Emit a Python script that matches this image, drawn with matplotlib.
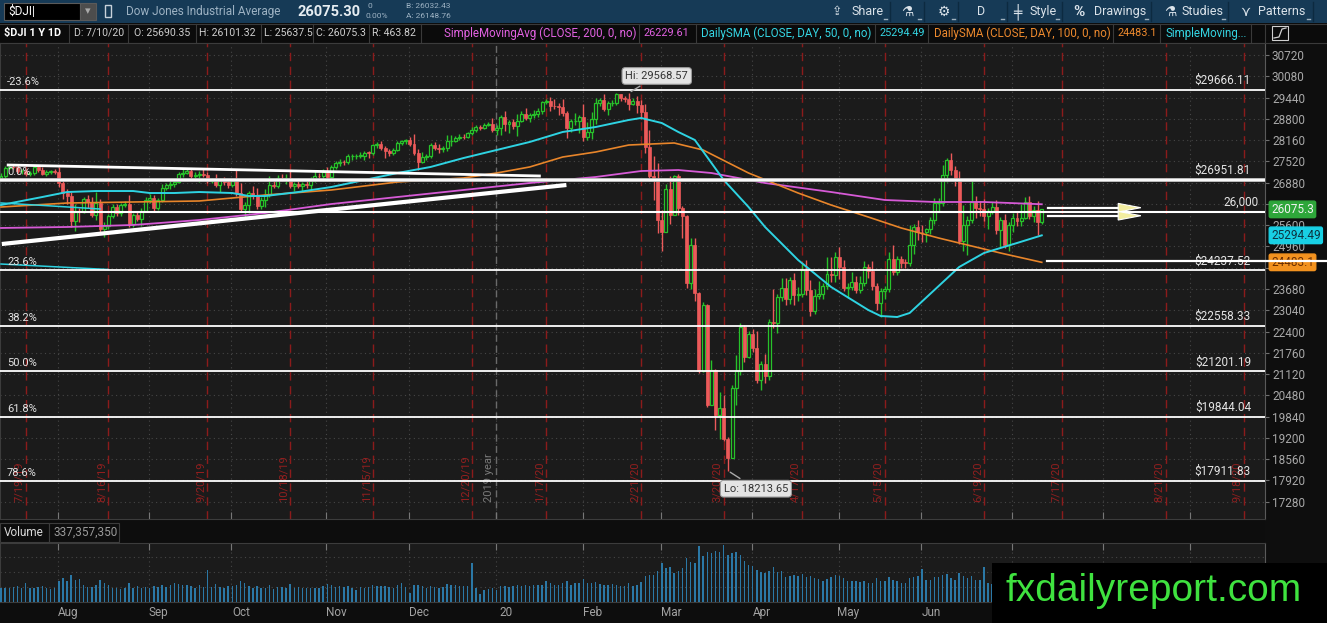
import numpy as np
import pandas as pd
import matplotlib
matplotlib.use("Agg")
import matplotlib.pyplot as plt
import matplotlib.transforms as mtrans
from matplotlib.patches import Rectangle, Polygon

plt.rcParams['font.family'] = ['Roboto', 'DejaVu Sans']

W, H = 1327, 623

## Daily closes, Jul 11 2019 .. Jul 10 2020 (one list per month)
close_jul19 = [27088, 27332, 27359, 27336, 27220, 27223, 27154, 27172, 27349, 27270, 27140, 27192, 27221, 27198, 26864]
close_aug19 = [26583, 26485, 25718, 26030, 26008, 26378, 26287, 25897, 26280, 25480, 25579, 25886, 26136, 25962, 26202,
               26252, 25629, 25899, 25778, 26036, 26362, 26403]
close_sep19 = [26118, 26355, 26728, 26797, 26835, 26909, 27137, 27182, 27220, 27076, 27111, 27147, 27095, 26935, 26950,
               26808, 26971, 26891, 26820, 26917]
close_oct19 = [26573, 26079, 26202, 26573, 26478, 26165, 26347, 26497, 26817, 26787, 27025, 27001, 27026, 26770, 26828,
               26788, 26834, 26806, 26958, 27091, 27071, 27186, 27046]
close_nov19 = [27347, 27462, 27493, 27492, 27675, 27681, 27691, 27691, 27784, 27782, 28005, 28036, 27934, 27821, 27766,
               27876, 28066, 28122, 28164, 28051]
close_dec19 = [27783, 27503, 27650, 27678, 28015, 27909, 27881, 27911, 28132, 28135, 28235, 28268, 28239, 28377, 28455,
               28551, 28516, 28621, 28645, 28462, 28538]
close_jan20 = [28868, 28634, 28703, 28583, 28745, 28957, 28824, 28907, 28940, 29030, 29298, 29348, 29196, 29186, 29160,
               28990, 28535, 28723, 28734, 28860, 28256]
close_feb20 = [28400, 28808, 29291, 29380, 29103, 29276, 29276, 29551, 29424, 29398, 29232, 29348, 29219, 28992, 27961,
               27081, 26957, 25767, 25409]
close_mar20 = [26703, 25917, 27091, 26121, 25865, 23851, 25018, 23553, 21200, 23186, 20189, 21237, 19899, 20087, 19174,
               18592, 20704, 21200, 22552, 21637, 22328, 21917]
close_apr20 = [20944, 21413, 21053, 22680, 22654, 23434, 23719, 23390, 23950, 23505, 23538, 24242, 23650, 23019, 23475,
               23515, 23775, 24134, 24102, 24634, 24346]
close_may20 = [23724, 23750, 23883, 23664, 23875, 24331, 24221, 23764, 23248, 23625, 23685, 24597, 24206, 24576, 24474,
               24465, 24995, 25548, 25401, 25383]
close_jun20 = [25475, 25742, 26270, 26282, 27111, 27572, 27272, 26990, 25128, 25606, 25763, 26290, 26120, 26080, 25871,
               26025, 26156, 25446, 25745, 25016, 25596, 25813]
close_jul20 = [25735, 25827, 26287, 25890, 26067, 25706, 26075.3]
first_open = 27010

## Wick lengths above / below the candle body (points)
up_jul19 = [80, 60, 50, 40, 90, 60, 80, 60, 50, 70, 80, 60, 50, 60, 150]
up_aug19 = [150, 100, 120, 200, 80, 60, 120, 150, 330, 100, 120, 60, 100, 90, 60, 80, 250, 60, 120, 70, 90, 150]
up_sep19 = [100, 60, 100, 60, 80, 90, 60, 100, 80, 60, 80, 80, 160, 100, 80, 180, 60, 90, 110, 60]
up_oct19 = [350, 300, 100, 50, 200, 250, 100, 180, 250, 100, 80, 120, 100, 200, 60, 180, 60, 150, 80, 130, 80, 100, 150]
up_nov19 = [60, 80, 100, 60, 80, 60, 60, 100, 50, 60, 40, 60, 100, 60, 80, 60, 60, 50, 40, 80]
up_dec19 = [280, 100, 150, 70, 60, 100, 120, 60, 180, 180, 60, 70, 90, 40, 90, 50, 50, 40, 50, 170, 90]
up_jan20 = [60, 160, 60, 100, 200, 80, 180, 60, 130, 90, 40, 50, 120, 200, 100, 250, 50, 60, 250, 50, 400]
up_feb20 = [300, 200, 150, 50, 160, 50, 90, 18, 10, 60, 180, 80, 130, 150, 250, 500, 600, 500, 300]
up_mar20 = [150, 380, 20, 50, 50, 50, 200, 200, 50, 100, 50, 300, 50, 500, 400, 50, 100, 500, 100, 50, 100, 150]
up_apr20 = [500, 100, 300, 100, 1000, 100, 300, 300, 100, 200, 200, 200, 300, 300, 200, 400, 100, 500, 500, 150, 300]
up_may20 = [200, 100, 300, 200, 200, 200, 100, 300, 100, 100, 100, 200, 400, 100, 100, 100, 600, 100, 200, 200]
up_jun20 = [50, 100, 150, 150, 300, 50, 200, 100, 250, 600, 100, 700, 200, 200, 300, 100, 150, 200, 100, 200, 100, 150]
up_jul20 = [200, 400, 150, 200, 100, 250, 26]

dn_jul19 = [60, 70, 50, 60, 50, 90, 60, 80, 70, 60, 40, 50, 60, 70, 120]
dn_aug19 = [200, 250, 180, 280, 300, 50, 180, 60, 150, 80, 250, 90, 70, 80, 90, 60, 90, 80, 60, 200, 50, 80]
dn_sep19 = [100, 60, 60, 80, 100, 100, 50, 80, 40, 90, 80, 200, 50, 80, 70, 60, 200, 90, 100, 80]
dn_oct19 = [80, 50, 300, 250, 90, 80, 90, 200, 60, 80, 70, 80, 150, 40, 130, 60, 200, 80, 150, 60, 110, 150, 120]
dn_nov19 = [80, 60, 90, 80, 60, 100, 100, 60, 120, 150, 80, 80, 70, 200, 80, 60, 50, 40, 70, 60]
dn_dec19 = [60, 230, 40, 100, 50, 60, 100, 70, 90, 140, 40, 80, 40, 30, 60, 40, 60, 30, 40, 50, 150]
dn_jan20 = [220, 200, 250, 100, 300, 50, 60, 130, 90, 90, 80, 60, 150, 80, 250, 120, 300, 120, 100, 350, 120]
dn_feb20 = [100, 200, 150, 100, 70, 200, 100, 50, 80, 90, 180, 30, 250, 200, 200, 150, 600, 400, 600]
dn_mar20 = [20, 270, 10, 220, 640, 150, 160, 230, 50, 10, 70, 10, 450, 720, 70, 378, 10, 500, 100, 140, 40, 120]
dn_apr20 = [100, 300, 200, 100, 150, 300, 100, 200, 150, 300, 200, 100, 150, 150, 100, 100, 150, 100, 200, 200, 350]
dn_may20 = [100, 300, 100, 100, 100, 100, 200, 100, 200, 400, 250, 100, 100, 100, 150, 150, 100, 250, 250, 300]
dn_jun20 = [300, 150, 100, 250, 100, 200, 150, 200, 100, 300, 900, 100, 300, 200, 150, 400, 100, 100, 500, 100, 200, 200]
dn_jul20 = [150, 150, 50, 100, 200, 400, 70]

## Volume (millions)
vol_jul19 = [230, 220, 230, 240, 250, 230, 310, 220, 230, 240, 250, 220, 210, 230, 330]
vol_aug19 = [380, 340, 430, 360, 370, 280, 240, 240, 280, 360, 300, 270, 220, 230, 210, 220, 310, 220, 260, 220, 240, 230]
vol_sep19 = [260, 240, 280, 240, 270, 300, 290, 280, 270, 250, 230, 270, 240, 520, 240, 290, 240, 230, 250, 260]
vol_oct19 = [280, 330, 300, 260, 230, 250, 220, 230, 280, 210, 240, 240, 230, 290, 220, 240, 230, 220, 230, 220, 230, 250, 290]
vol_nov19 = [270, 240, 260, 240, 250, 230, 200, 240, 220, 240, 270, 260, 250, 250, 240, 230, 270, 300, 240, 150]
vol_dec19 = [280, 270, 250, 230, 260, 240, 230, 240, 290, 280, 280, 260, 250, 260, 620, 220, 130, 190, 210, 220, 200]
vol_jan20 = [250, 250, 240, 250, 280, 260, 280, 260, 280, 270, 280, 340, 300, 280, 270, 310, 340, 280, 300, 300, 370]
vol_feb20 = [300, 310, 320, 290, 270, 270, 290, 280, 260, 250, 300, 260, 280, 320, 410, 440, 430, 500, 620]
vol_mar20 = [540, 560, 470, 500, 540, 700, 640, 620, 890, 740, 800, 780, 820, 800, 920, 750, 780, 800, 760, 650, 600, 580]
vol_apr20 = [520, 480, 460, 500, 560, 480, 500, 400, 420, 430, 410, 450, 400, 420, 380, 370, 340, 370, 400, 430, 420]
vol_may20 = [380, 340, 330, 330, 320, 330, 300, 310, 380, 340, 330, 400, 350, 330, 310, 300, 380, 400, 410, 530]
vol_jun20 = [360, 360, 400, 400, 440, 450, 380, 360, 470, 410, 380, 420, 360, 360, 560, 300, 290, 330, 340, 450, 310, 340]
vol_jul20 = [300, 290, 280, 310, 290, 330, 337.36]

## Moving averages (bar index, value)
sma200_idx = [0, 16, 32, 48, 64, 80, 96, 112, 128, 144, 155, 164, 172, 185, 201, 214, 226, 238, 252]
sma200_val = [25516, 25546, 25606, 25756, 25966, 26237, 26448, 26659, 26869, 27050, 27230, 27260, 27170, 26869,
              26598, 26358, 26298, 26298, 26229.61]
sma50_idx = [0, 10, 16, 23, 32, 36, 42, 48, 56, 60, 64, 72, 80, 88, 96, 104, 112, 120, 128, 136, 144, 152, 155, 160,
             164, 168, 175, 181, 185, 193, 201, 210, 213, 217, 220, 226, 232, 238, 242, 246, 252]
sma50_val = [26207, 26448, 26598, 26628, 26628, 26568, 26568, 26598, 26568, 26478, 26478, 26598, 26749, 26959, 27170,
             27351, 27621, 27862, 28103, 28404, 28554, 28765, 28825, 28674, 28404, 28163, 26959, 26147, 25546, 24553,
             23740, 23048, 22868, 22838, 22958, 23650, 24342, 24763, 24914, 25064, 25294.49]
sma100_idx = [0, 8, 16, 32, 48, 56, 64, 80, 96, 112, 120, 128, 136, 144, 152, 163, 170, 181, 193, 201, 210, 218,
              227, 234, 242, 252]
sma100_val = [26147, 26207, 26267, 26298, 26328, 26418, 26508, 26659, 26899, 27020, 27170, 27351, 27651, 27802,
              28012, 28073, 27862, 27170, 26568, 26207, 25846, 25515, 25215, 25004, 24763, 24483.1]
extra_a_idx, extra_a_val = [0, 12, 24], [26268, 26180, 26087]
extra_b_idx, extra_b_val = [0, 13, 26], [24432, 24350, 24267]

## Fibonacci retracement and drawings
fib_pct = ["-23.6%", "0.0%", "23.6%", "38.2%", "50.0%", "61.8%", "78.6%"]
fib_val = [29666.11, 26951.81, 24237.52, 22558.33, 21201.19, 19844.04, 17911.83]
hi_text, lo_text = "Hi: 29568.57", "Lo: 18213.65"
trend_upper = ([1.4, 130.7], [27411, 27080])
trend_lower = ([0.2, 136.9], [25034, 26809])
level_main = 26000
level_short = 24520
arrow_levels = [26126, 25885]
last_volume_text = "337,357,350"

holidays = ["2019-09-02", "2019-11-28", "2019-12-25", "2020-01-01", "2020-01-20", "2020-02-17",
            "2020-04-10", "2020-05-25", "2020-07-03", "2020-09-07"]
expiries = ["2019-07-19", "2019-08-16", "2019-09-20", "2019-10-18", "2019-11-15", "2019-12-20", "2020-01-17",
            "2020-02-21", "2020-03-20", "2020-04-17", "2020-05-15", "2020-06-19", "2020-07-17", "2020-08-21",
            "2020-09-18"]
month_names = {1: "20", 2: "Feb", 3: "Mar", 4: "Apr", 5: "May", 6: "Jun", 7: "Jul", 8: "Aug", 9: "Sep",
               10: "Oct", 11: "Nov", 12: "Dec"}

## Colours
BG = '#1b1b1b'
GREEN = '#27c22a'
RED = '#ec5a5a'
MAGENTA = '#d65ad6'
CYAN = '#2ed3e2'
ORANGE = '#e8852a'
GRID = '#464646'

## Assemble series
closes = np.array(close_jul19 + close_aug19 + close_sep19 + close_oct19 + close_nov19 + close_dec19 +
                  close_jan20 + close_feb20 + close_mar20 + close_apr20 + close_may20 + close_jun20 + close_jul20,
                  dtype=float)
wick_up = np.array(up_jul19 + up_aug19 + up_sep19 + up_oct19 + up_nov19 + up_dec19 + up_jan20 + up_feb20 +
                   up_mar20 + up_apr20 + up_may20 + up_jun20 + up_jul20, dtype=float)
wick_dn = np.array(dn_jul19 + dn_aug19 + dn_sep19 + dn_oct19 + dn_nov19 + dn_dec19 + dn_jan20 + dn_feb20 +
                   dn_mar20 + dn_apr20 + dn_may20 + dn_jun20 + dn_jul20, dtype=float)
volume = np.array(vol_jul19 + vol_aug19 + vol_sep19 + vol_oct19 + vol_nov19 + vol_dec19 + vol_jan20 + vol_feb20 +
                  vol_mar20 + vol_apr20 + vol_may20 + vol_jun20 + vol_jul20, dtype=float)
n = len(closes)
xs = np.arange(n)
opens = np.r_[first_open, closes[:-1]]
body_top = np.maximum(opens, closes)
body_bot = np.minimum(opens, closes)
highs = body_top + wick_up
lows = body_bot - wick_dn
rising = closes >= opens

cal = pd.bdate_range("2019-07-11", "2020-10-30")
cal = cal[~cal.isin(pd.to_datetime(holidays))]
XMIN, XMAX = -0.24, 306.05

## Figure and panels laid out in pixels
fig = plt.figure(figsize=(W / 100, H / 100), dpi=100, facecolor='#0d0d0d')


def px_axes(x0, y0, x1, y1, z):
    return fig.add_axes([x0 / W, 1 - y1 / H, (x1 - x0) / W, (y1 - y0) / H], zorder=z)


under = px_axes(0, 0, W, H, 0)
over = px_axes(0, 0, W, H, 10)
for a in (under, over):
    a.set_xlim(0, W)
    a.set_ylim(H, 0)
    a.axis('off')
over.patch.set_visible(False)

ax = px_axes(0, 43, 1265, 519, 2)
vax = px_axes(0, 543, 1265, 602, 2)

## Background strips
under.add_patch(Rectangle((0, 0), W, 23, fc='#163a56', ec='none'))
under.add_patch(Rectangle((0, 23), W, 20, fc='#0b0b0b', ec='none'))
under.add_patch(Rectangle((1265, 43), 62, 580, fc='#0e0e0e', ec='none'))

## Main price panel
ax.set_facecolor(BG)
ax.set_xlim(XMIN, XMAX)
ax.set_ylim(16761, 31081)
price_ticks = np.arange(17280, 30721, 640)
ax.yaxis.tick_right()
ax.set_yticks(price_ticks)
# labels hidden behind the last-price badge in the reference
ax.set_yticklabels(["" if t in (26240, 24320) else str(t) for t in price_ticks])
ax.tick_params(axis='y', colors='#707070', labelcolor='#a8a8a8', labelsize=8.5, length=3, pad=2)
for s in ax.spines.values():
    s.set_color('#3c3c3c')
ax.spines['right'].set_color('#5a5a5a')
for t in price_ticks:
    ax.axhline(t, color=GRID, lw=0.8, ls=(0, (1, 3)), zorder=1)

## Month grid, year marker and option expiry lines
month_start = [i for i in range(1, len(cal)) if cal[i].month != cal[i - 1].month]
grid_pos = [i - 1.2 for i in month_start if i - 1.2 < XMAX]
ax.set_xticks(grid_pos)
ax.tick_params(axis='x', direction='in', length=5, colors='#777777', labelbottom=False)
for g in grid_pos:
    ax.axvline(g, color=GRID, lw=0.8, ls=(0, (1, 3)), zorder=1)
    vax.axvline(g, color=GRID, lw=0.8, ls=(0, (1, 3)), zorder=1)

blend = mtrans.blended_transform_factory(ax.transData, ax.transAxes)
year_pos = [i - 1.2 for i in month_start if cal[i].month == 1][0]
ax.axvline(year_pos, color='#6a6a6a', lw=1, ls=(0, (5, 3)), zorder=1.5)
ax.text(year_pos - 0.4, 0.035, "2019 year", rotation=90, ha='right', va='bottom', transform=blend,
        color='#7a7a7a', fontsize=8)
for d in expiries:
    ts = pd.Timestamp(d)
    i = cal.get_loc(ts)
    ax.axvline(i, color='#8c1b1b', lw=1, ls=(0, (6, 4)), zorder=1.5)
    ax.text(i - 0.4, 0.035, f"{ts.month}/{ts.day}/{ts.strftime('%y')}", rotation=90, ha='right', va='bottom',
            transform=blend, color='#931f1f', fontsize=8)

## Candles
ax.vlines(xs[rising], lows[rising], highs[rising], color=GREEN, lw=1, zorder=3)
ax.vlines(xs[~rising], lows[~rising], highs[~rising], color=RED, lw=1, zorder=3)
body_h = np.maximum(body_top - body_bot, 14)
ax.bar(xs[rising], body_h[rising], bottom=body_bot[rising], width=0.72, facecolor=BG, edgecolor=GREEN,
       linewidth=0.9, zorder=4)
ax.bar(xs[~rising], body_h[~rising], bottom=body_bot[~rising], width=0.72, facecolor=RED, edgecolor=RED,
       linewidth=0.5, zorder=4)

## Studies
ax.plot(sma200_idx, sma200_val, color=MAGENTA, lw=1.3, zorder=5)
ax.plot(sma100_idx, sma100_val, color=ORANGE, lw=1.2, zorder=5)
ax.plot(sma50_idx, sma50_val, color=CYAN, lw=1.4, zorder=5)
ax.plot(extra_a_idx, extra_a_val, color=CYAN, lw=1.1, zorder=5)
ax.plot(extra_b_idx, extra_b_val, color=CYAN, lw=1.1, zorder=5)

## Fibonacci levels
for pct, val in zip(fib_pct, fib_val):
    if pct == "0.0%":
        ax.axhline(val, color='#c4c4c4', lw=2.8, zorder=6)
    ax.axhline(val, color='white', lw=1.3, zorder=6)
    ax.annotate(pct, xy=(0, val), xycoords=('axes fraction', 'data'), xytext=(7, 3),
                textcoords='offset pixels', ha='left', va='bottom', color='#e4e4e4', fontsize=8, zorder=7)
    ax.annotate(f"${val:.2f}", xy=(1, val), xycoords=('axes fraction', 'data'), xytext=(-14, 3),
                textcoords='offset pixels', ha='right', va='bottom', color='#e4e4e4', fontsize=8.5, zorder=7)

ax.axhline(level_main, color='white', lw=1.5, zorder=6)
ax.annotate(f"{level_main:,}", xy=(1, level_main), xycoords=('axes fraction', 'data'), xytext=(-6, 3),
            textcoords='offset pixels', ha='right', va='bottom', color='#e4e4e4', fontsize=8.5, zorder=7)

ax.plot(*trend_upper, color='white', lw=2, zorder=7, solid_capstyle='butt')
ax.plot(*trend_lower, color='white', lw=3, zorder=7, solid_capstyle='butt')

## Short drawings to the right of the last bar
ax.plot([n + 0.3, 321], [level_short, level_short], color='white', lw=1.6, clip_on=False, zorder=12)
for lv in arrow_levels:
    ax.plot([n + 0.5, n + 18], [lv, lv], color='white', lw=1.6, zorder=8)
    ax.add_patch(Polygon([(n + 17.5, lv + 130), (n + 23, lv), (n + 17.5, lv - 130)], closed=True,
                         fc='#f3eea0', ec='white', lw=0.8, zorder=9))

## Hi / Lo bubbles
hi_i, lo_i = int(np.argmax(highs)), int(np.argmin(lows))
bubble = dict(boxstyle='round,pad=0.3', fc='#e4e4e4', ec='#9a9a9a', lw=0.8)
ax.annotate(hi_text, xy=(hi_i, highs[hi_i]), xytext=(28, 17), textcoords='offset pixels',
            ha='center', va='center', fontsize=8, color='#333333', bbox=bubble,
            arrowprops=dict(arrowstyle='-', color='#aaaaaa', lw=1), zorder=11)
ax.annotate(lo_text, xy=(lo_i, lows[lo_i]), xytext=(28, -18), textcoords='offset pixels',
            ha='center', va='center', fontsize=8, color='#333333', bbox=bubble,
            arrowprops=dict(arrowstyle='-', color='#aaaaaa', lw=1), zorder=11)

## Price badges on the axis
badges = [(closes[-1], "26075.3", '#2ea63a', '#f2f2f2'),
          (sma50_val[-1], "25294.49", '#18d0e4', '#0d3340'),
          (sma100_val[-1], "24483.1", '#f2921f', '#6a2e00')]
for val, txt, fc, tc in badges:
    ax.annotate(txt, xy=(1, val), xycoords=('axes fraction', 'data'), xytext=(6, 0),
                textcoords='offset pixels', ha='left', va='center', fontsize=8.5, color=tc,
                bbox=dict(boxstyle='round,pad=0.15', fc=fc, ec=fc), annotation_clip=False, zorder=10)

## Volume panel
vax.set_facecolor(BG)
vax.set_xlim(XMIN, XMAX)
vax.set_ylim(0, 945)
vax.bar(xs, volume, width=0.35, color='#2b78a6', zorder=3)
for g in (240, 480, 721):
    vax.axhline(g, color=GRID, lw=0.8, ls=(0, (1, 3)), zorder=1)
vax.set_yticks([])
vax.set_xticks(grid_pos)
vax.tick_params(axis='x', direction='in', length=5, colors='#777777', labelbottom=False, top=True, bottom=False)
for s in vax.spines.values():
    s.set_color('#3c3c3c')
vax.spines['right'].set_color('#5a5a5a')
vblend = mtrans.blended_transform_factory(vax.transData, vax.transAxes)
for i in month_start:
    if i + 1.2 < XMAX:
        vax.text(i + 1.2, -0.17, month_names[cal[i].month], transform=vblend, ha='center', va='center',
                 color='#a2a2a2', fontsize=8.5, clip_on=False)

## Volume header
under.add_patch(Rectangle((0, 523), 49, 19, fc='#0d0d0d', ec='#3c3c3c', lw=0.8))
under.add_patch(Rectangle((49, 523), 70, 19, fc='#0d0d0d', ec='#3c3c3c', lw=0.8))
under.text(4, 532.5, "Volume", color='#d8d8d8', fontsize=8.5, va='center')
under.text(54, 532.5, last_volume_text, color='#9a9a9a', fontsize=8.5, va='center')

## Toolbar row
under.add_patch(Rectangle((4, 3), 76, 17, fc='#000000', ec='#5a5a5a', lw=0.8))
under.text(8, 11.5, "$DJI|", color='white', fontsize=8.5, va='center')
under.add_patch(Rectangle((80, 3), 16, 17, fc='#4d4d4d', ec='#5a5a5a', lw=0.8))
under.text(88, 11.5, "▾", color='#aaaaaa', fontsize=8, ha='center', va='center', family='DejaVu Sans')
under.add_patch(Rectangle((105, 5), 6, 12, fc='none', ec='#c8d2da', lw=1))
under.text(126, 11.5, "Dow Jones Industrial Average", color='#9db2c3', fontsize=8.5, va='center')
under.text(297, 11.5, "26075.30", color='#e6edf2', fontsize=10.5, fontweight='bold', va='center')
under.text(368, 6.5, "0", color='#9db2c3', fontsize=6, va='center')
under.text(366, 15.5, "0.00%", color='#9db2c3', fontsize=6, va='center')
under.text(406, 6.5, "B: 26032.43", color='#9db2c3', fontsize=6, va='center')
under.text(406, 15.5, "A: 26148.76", color='#9db2c3', fontsize=6, va='center')

tool_items = [(832, "⇪", 9), (851, "Share", 9), (901, "⚗", 10), (938, "⚙", 10), (977, "D", 9),
              (1013, "╪", 10), (1030, "Style", 9), (1073, "%", 11), (1094, "Drawings", 9),
              (1164, "⚗", 10), (1181, "Studies", 9), (1240, "⋎", 10), (1258, "Patterns", 9)]
for x0, txt, fs in tool_items:
    bold = 'bold' if txt == "%" else 'normal'
    under.text(x0, 11.5, txt, color='#dbe3ea', fontsize=fs, va='center', fontweight=bold,
               family=['Roboto', 'DejaVu Sans'])
for sx in (890, 924, 958, 1007, 1062, 1151, 1228, 1313):
    under.plot([sx, sx], [2, 21], color='#0c2a40', lw=1)
    under.plot([sx - 6, sx - 3], [19, 19], color='#9fb0bd', lw=1)

## Study header row
under.plot([0, W], [23.5, 23.5], color='#3a3a3a', lw=0.8)
under.plot([0, W], [42.5, 42.5], color='#3a3a3a', lw=0.8)
for sx in (69, 128, 196, 261, 313, 369, 421, 639, 696, 875, 928, 1113, 1160, 1251, 1265):
    under.plot([sx, sx], [24, 42], color='#3a3a3a', lw=0.8)
head = [(4, "$DJI 1 Y 1D", 'white', 'bold', 7.8), (74, "D: 7/10/20", '#cfcfcf', 'normal', 7.6),
        (134, "O: 25690.35", '#cfcfcf', 'normal', 7.6), (199, "H: 26101.32", '#cfcfcf', 'normal', 7.6),
        (264, "L: 25637.5", '#cfcfcf', 'normal', 7.6), (316, "C: 26075.3", '#cfcfcf', 'normal', 7.6),
        (372, "R: 463.82", '#cfcfcf', 'normal', 7.6),
        (444, "SimpleMovingAvg (CLOSE, 200, 0, no)", '#e262e2', 'normal', 8.3),
        (643, "26229.61", '#e262e2', 'normal', 7.8),
        (701, "DailySMA (CLOSE, DAY, 50, 0, no)", '#35d6e4', 'normal', 8.3),
        (879, "25294.49", '#35d6e4', 'normal', 7.8),
        (934, "DailySMA (CLOSE, DAY, 100, 0, no)", '#ee8a2e', 'normal', 8.3),
        (1117, "24483.1", '#ee8a2e', 'normal', 7.8),
        (1166, "SimpleMoving...", '#35d6e4', 'normal', 8.3)]
for x0, txt, col, wt, fs in head:
    under.text(x0, 33, txt, color=col, fontsize=fs, fontweight=wt, va='center')
under.add_patch(Rectangle((1272, 26), 16, 14, fc='none', ec='#d0d0d0', lw=0.8))
under.plot([1274, 1279, 1282, 1286], [38, 37, 29, 28], color='#d0d0d0', lw=0.9)

## Watermark
over.add_patch(Rectangle((992, 563), W - 992, H - 563, fc='#000000', ec='none'))
over.text(1005, 601, "fxdailyreport.com", color='#3fe23f', fontsize=28, va='baseline', ha='left',
          family='Liberation Sans')

fig.savefig("out.png", dpi=100, facecolor=fig.get_facecolor())
